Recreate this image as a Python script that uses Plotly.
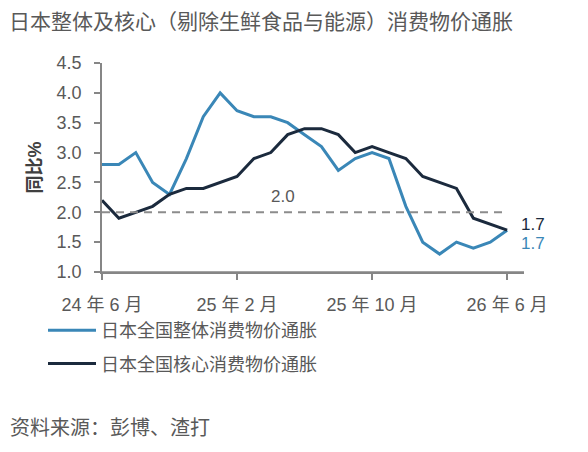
import plotly.graph_objects as go

months = ["24 年 6 月", "24 年 7 月", "24 年 8 月", "24 年 9 月", "24 年 10 月", "24 年 11 月",
          "24 年 12 月", "25 年 1 月", "25 年 2 月", "25 年 3 月", "25 年 4 月", "25 年 5 月",
          "25 年 6 月", "25 年 7 月", "25 年 8 月", "25 年 9 月", "25 年 10 月", "25 年 11 月",
          "25 年 12 月", "26 年 1 月", "26 年 2 月", "26 年 3 月", "26 年 4 月", "26 年 5 月",
          "26 年 6 月"]
headline = [2.8, 2.8, 3.0, 2.5, 2.3, 2.9, 3.6, 4.0, 3.7, 3.6, 3.6, 3.5,
            3.3, 3.1, 2.7, 2.9, 3.0, 2.9, 2.1, 1.5, 1.3, 1.5, 1.4, 1.5, 1.7]
core = [2.2, 1.9, 2.0, 2.1, 2.3, 2.4, 2.4, 2.5, 2.6, 2.9, 3.0, 3.3,
        3.4, 3.4, 3.3, 3.0, 3.1, 3.0, 2.9, 2.6, 2.5, 2.4, 1.9, 1.8, 1.7]
tick_months = ["24 年 6 月", "25 年 2 月", "25 年 10 月", "26 年 6 月"]
target = 2.0
names = ["日本全国整体消费物价通胀", "日本全国核心消费物价通胀"]

BLUE = "#3a87b7"
NAVY = "#1b2a3d"
GREY = "#595959"
AXIS = "#868686"
FONT = "Liberation Sans, Arial, Noto Sans CJK SC, sans-serif"

fig = go.Figure()
fig.add_trace(go.Scatter(x=months, y=headline, mode="lines", name=names[0],
                         line=dict(color=BLUE, width=3), legendgroup="a"))
fig.add_trace(go.Scatter(x=months, y=core, mode="lines", name=names[1],
                         line=dict(color=NAVY, width=3), legendgroup="b"))
fig.add_trace(go.Scatter(x=[months[0], months[-1]], y=[target, target], mode="lines",
                         line=dict(color="#8c8c8c", width=2, dash="8px,6px"),
                         showlegend=False, hoverinfo="skip"))

fig.add_annotation(x=10.7, y=target, xref="x", yref="y", text=f"{target:.1f}",
                   showarrow=False, yshift=16, font=dict(size=17, color=GREY))
fig.add_annotation(x=months[-1], y=core[-1], xref="x", yref="y", text=f"{core[-1]:.1f}",
                   showarrow=False, xanchor="left", xshift=12, yshift=6,
                   font=dict(size=17, color=NAVY))
fig.add_annotation(x=months[-1], y=headline[-1], xref="x", yref="y", text=f"{headline[-1]:.1f}",
                   showarrow=False, xanchor="left", xshift=12, yshift=-13,
                   font=dict(size=17, color=BLUE))

L, R, T, B = 102, 64, 63, 180
W, H = 588, 452
pw = W - L - R
ph = H - T - B

def px2paper_x(px):
    return (px - L) / pw

def py2paper_y(py):
    return (H - B - py) / ph

fig.add_annotation(x=px2paper_x(8), y=py2paper_y(428), xref="paper", yref="paper",
                   text="资料来源：彭博、渣打", showarrow=False, xanchor="left", yanchor="middle",
                   font=dict(size=20, color=GREY))

# bottom axis line (styling)
fig.add_shape(type="line", xref="paper", yref="paper", x0=0, x1=1, y0=0, y1=0,
              line=dict(color=AXIS, width=1.5), layer="above")

fig.update_layout(
    width=W, height=H,
    margin=dict(l=L, r=R, t=T, b=B, autoexpand=False),
    paper_bgcolor="white", plot_bgcolor="white",
    font=dict(family=FONT, color=GREY, size=17),
    title=dict(text="日本整体及核心（剔除生鲜食品与能源）消费物价通胀", x=9 / W, xanchor="left",
               y=1 - 22 / H, yanchor="middle", yref="container",
               font=dict(size=21, color=GREY)),
    showlegend=True,
    legend=dict(x=px2paper_x(43), y=py2paper_y(312), xanchor="left", yanchor="top",
                traceorder="grouped", tracegroupgap=7, itemwidth=48,
                font=dict(size=18, color=GREY), bgcolor="rgba(0,0,0,0)"),
    xaxis=dict(type="category", categoryorder="array", categoryarray=months,
               range=[0, 25], tickmode="array", tickvals=tick_months, automargin=False,
               ticktext=tick_months, showgrid=False, showline=True, linecolor=AXIS, linewidth=1.5,
               ticks="outside", ticklen=6, tickcolor=AXIS, tickwidth=1.5, ticklabelstandoff=10,
               tickfont=dict(size=18, color=GREY), zeroline=False),
    yaxis=dict(range=[1.0, 4.5], tickvals=[1.0, 1.5, 2.0, 2.5, 3.0, 3.5, 4.0, 4.5],
               tickformat=".1f", showgrid=False, showline=True, linecolor=AXIS, linewidth=1.5,
               ticks="outside", ticklen=6, tickcolor=AXIS, tickwidth=1.5, ticklabelstandoff=9,
               tickfont=dict(size=18, color=GREY), zeroline=False, automargin=False,
               title=dict(text="<b>同比%</b>", font=dict(size=18, color="#404040"), standoff=10)),
)

fig.write_html("out.html", config={"displayModeBar": False},
               post_script="document.body.style.margin='0';")
